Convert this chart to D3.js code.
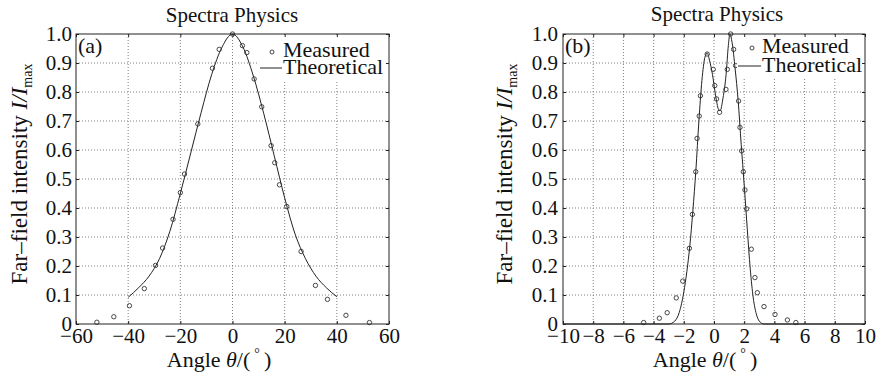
<!DOCTYPE html>
<html><head><meta charset="utf-8">
<script src="https://cdn.jsdelivr.net/npm/d3@7"></script>
<style>
body{margin:0;background:#fff}
svg{display:block}
text{font-family:"Liberation Serif","Times New Roman",serif;fill:#111}
</style>
</head><body>
<svg id="c" width="876" height="376"></svg>
<script>
// ---- data ----
const yTicks = [0,0.1,0.2,0.3,0.4,0.5,0.6,0.7,0.8,0.9,1.0];
const yTickLabels = ["0","0.1","0.2","0.3","0.4","0.5","0.6","0.7","0.8","0.9","1.0"];

const xTicksA = [-60,-40,-20,0,20,40,60];
const xTickLabelsA = ["\u221260","\u221240","\u221220","0","20","40","60"];
const xTicksB = [-10,-8,-6,-4,-2,0,2,4,6,8,10];
const xTickLabelsB = ["\u221210","\u22128","\u22126","\u22124","\u22122","0","2","4","6","8","10"];

const measuredAx = [-52,-45.5,-39.5,-33.8,-29.5,-26.8,-22.8,-20,-18.4,-13.3,-7.7,-5.1,0,3.8,5.5,8.3,11.2,14.8,16.2,18,20.8,26.3,31.8,36.4,43.5,52.5];
const measuredAy = [0.006,0.025,0.063,0.122,0.202,0.262,0.361,0.453,0.517,0.690,0.882,0.947,1.0,0.960,0.936,0.845,0.749,0.615,0.556,0.480,0.405,0.250,0.133,0.085,0.030,0.005];
const theoryAx = [-40,-36,-32,-28,-24,-20,-16,-12,-8,-4,0,4,8,12,16,20,24,28,32,36,40];
const theoryAy = [0.092,0.125,0.165,0.225,0.32,0.45,0.59,0.73,0.86,0.955,1.0,0.955,0.855,0.725,0.58,0.435,0.31,0.225,0.165,0.125,0.094];

const measuredBx = [-4.66,-3.62,-3.1,-2.5,-2.07,-1.63,-1.43,-1.21,-1.12,-0.98,-0.90,-0.45,-0.05,0.05,0.17,0.37,0.79,0.88,1.10,1.30,1.43,1.63,1.72,1.83,1.94,2.05,2.16,2.47,2.71,2.87,3.31,4.04,4.86,5.42];
const measuredBy = [0.005,0.02,0.039,0.09,0.148,0.261,0.378,0.525,0.64,0.717,0.787,0.931,0.878,0.822,0.776,0.73,0.809,0.878,1.0,0.947,0.891,0.769,0.678,0.597,0.525,0.462,0.397,0.258,0.16,0.108,0.06,0.033,0.014,0.005];
const theoryBx = [-10,-3.0,-2.6,-2.3,-2.0,-1.8,-1.6,-1.4,-1.2,-1.0,-0.8,-0.6,-0.45,-0.3,-0.1,0.1,0.3,0.4,0.6,0.8,0.95,1.05,1.2,1.4,1.6,1.8,2.0,2.2,2.4,2.6,2.8,3.0,3.3,10];
const theoryBy = [0,0,0.01,0.04,0.11,0.18,0.27,0.39,0.53,0.70,0.84,0.92,0.935,0.91,0.86,0.79,0.74,0.735,0.78,0.86,0.96,1.0,0.97,0.88,0.77,0.62,0.48,0.33,0.19,0.09,0.035,0.01,0,0];

const titleText = "Spectra Physics";
const legendLabels = ["Measured","Theoretical"];

// ---- drawing ----
const svg = d3.select("#c");

function panel(o){
  const x = d3.scaleLinear().domain([o.xTicks[0], o.xTicks[o.xTicks.length-1]]).range([o.left,o.right]);
  const y = d3.scaleLinear().domain([0,1]).range([o.bottom,o.top]);
  const g = svg.append("g");

  // grid
  g.selectAll(".gx").data(o.xTicks.slice(1,-1)).join("line")
    .attr("x1",d=>x(d)).attr("x2",d=>x(d)).attr("y1",o.top).attr("y2",o.bottom)
    .attr("stroke","#808080").attr("stroke-width",1).attr("stroke-dasharray","1,2");
  g.selectAll(".gy").data(yTicks.slice(1,-1)).join("line")
    .attr("x1",o.left).attr("x2",o.right).attr("y1",d=>y(d)).attr("y2",d=>y(d))
    .attr("stroke","#808080").attr("stroke-width",1).attr("stroke-dasharray","1,2");

  // theoretical curve
  const pts = o.tx.map((v,i)=>[v,o.ty[i]]);
  g.append("path").datum(pts)
    .attr("d", d3.line().x(d=>x(d[0])).y(d=>y(d[1])).curve(d3.curveMonotoneX))
    .attr("fill","none").attr("stroke","#222").attr("stroke-width",1);

  // measured
  const mp = o.mx.map((v,i)=>[v,o.my[i]]);
  g.selectAll(".m").data(mp).join("circle")
    .attr("cx",d=>x(d[0])).attr("cy",d=>y(d[1])).attr("r",2.2)
    .attr("fill","none").attr("stroke","#333").attr("stroke-width",0.9);

  // legend
  const L = o.legend;
  g.append("rect").attr("x",L.x0).attr("y",o.top+1).attr("width",o.right-L.x0).attr("height",L.h).attr("fill","#fff");
  g.append("circle").attr("cx",L.mx).attr("cy",L.y1-5).attr("r",2).attr("fill","none").attr("stroke","#333").attr("stroke-width",0.9);
  g.append("text").attr("x",L.tx).attr("y",L.y1).attr("font-size",22).text(legendLabels[0]);
  g.append("line").attr("x1",L.lx0).attr("x2",L.tx-1).attr("y1",L.y2-6).attr("y2",L.y2-6).attr("stroke","#222").attr("stroke-width",1);
  g.append("text").attr("x",L.tx).attr("y",L.y2).attr("font-size",22).text(legendLabels[1]);

  // box
  g.append("rect").attr("x",o.left).attr("y",o.top).attr("width",o.right-o.left).attr("height",o.bottom-o.top)
    .attr("fill","none").attr("stroke","#222").attr("stroke-width",1);

  // axes
  const ax = g.append("g").attr("transform",`translate(0,${o.bottom})`)
    .call(d3.axisBottom(x).tickValues(o.xTicks).tickFormat((d,i)=>o.xLabels[i]).tickSizeInner(-3).tickSizeOuter(0).tickPadding(4));
  const ay = g.append("g").attr("transform",`translate(${o.left},0)`)
    .call(d3.axisLeft(y).tickValues(yTicks).tickFormat((d,i)=>yTickLabels[i]).tickSizeInner(-3).tickSizeOuter(0).tickPadding(o.yPad));
  const at = g.append("g").attr("transform",`translate(0,${o.top})`)
    .call(d3.axisTop(x).tickValues(o.xTicks).tickFormat("").tickSizeInner(-3).tickSizeOuter(0));
  const ar = g.append("g").attr("transform",`translate(${o.right},0)`)
    .call(d3.axisRight(y).tickValues(yTicks).tickFormat("").tickSizeInner(-3).tickSizeOuter(0));
  [ax,ay,at,ar].forEach(a=>{
    a.select(".domain").remove();
    a.selectAll("line").attr("stroke","#222");
    a.selectAll("text").attr("font-size",21).attr("font-family",'"Liberation Serif","Times New Roman",serif').attr("fill","#111");
  });

  // panel tag
  g.append("text").attr("x",o.left+2).attr("y",o.top+19).attr("font-size",22).text(o.tag);

  // title
  g.append("text").attr("x",o.titleX).attr("y",o.titleY).attr("text-anchor","middle").attr("font-size",21).text(titleText);

  // x label
  const xl = g.append("text").attr("x",o.xlabX).attr("y",367).attr("text-anchor","middle").attr("font-size",22);
  xl.append("tspan").text("Angle ");
  xl.append("tspan").attr("font-style","italic").text("\u03B8");
  xl.append("tspan").text("/(");
  xl.append("tspan").attr("dx",4).attr("dy",-9).attr("font-size",14).text("\u00B0");
  xl.append("tspan").attr("dx",4).attr("dy",9).text(")");

  // y label
  const yl = g.append("text").attr("transform",`translate(${o.ylabX},${(o.top+o.bottom)/2-5}) rotate(-90)`)
    .attr("text-anchor","middle").attr("font-size",23);
  yl.append("tspan").text("Far\u2013field intensity ");
  yl.append("tspan").attr("font-style","italic").text("I/I");
  yl.append("tspan").attr("dy",5).attr("font-size",14).text("max");
}

panel({
  left:76, right:389, top:34, bottom:324,
  xTicks:xTicksA, xLabels:xTickLabelsA, yPad:4,
  tx:theoryAx, ty:theoryAy, mx:measuredAx, my:measuredAy,
  legend:{x0:257, h:46, mx:272, tx:283, lx0:260, y1:57, y2:74},
  tag:"(a)", titleX:232, titleY:22, xlabX:219, ylabX:27
});
panel({
  left:563, right:865, top:34, bottom:324,
  xTicks:xTicksB, xLabels:xTickLabelsB, yPad:5,
  tx:theoryBx, ty:theoryBy, mx:measuredBx, my:measuredBy,
  legend:{x0:737, h:42, mx:752, tx:762, lx0:738, y1:53, y2:72},
  tag:"(b)", titleX:717, titleY:21, xlabX:705, ylabX:512
});
</script>
</body></html>
